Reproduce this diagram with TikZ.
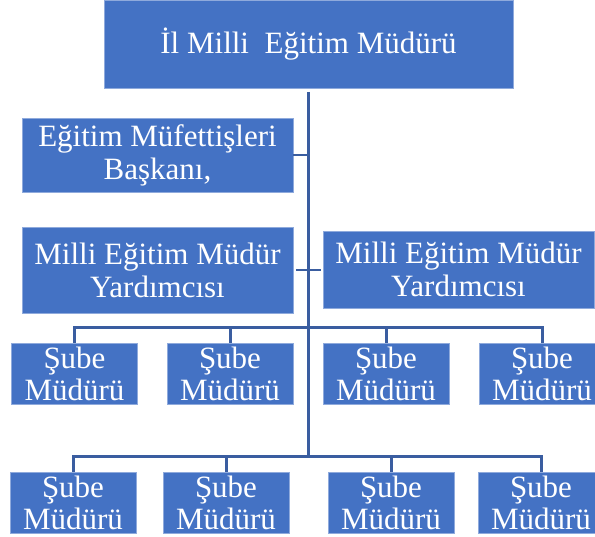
\documentclass[tikz,border=0pt]{standalone}
\usepackage{fontspec}
\setmainfont{Liberation Serif}
\definecolor{boxblue}{HTML}{4472C4}
\definecolor{edgeblue}{HTML}{8FAADC}
\definecolor{lineblue}{HTML}{3A5DA0}
\tikzset{
  orgbox/.style={rectangle, fill=boxblue, draw=edgeblue, line width=0.8pt, text=white,
    align=center, inner sep=0pt, font=\fontsize{31}{33}\selectfont},
  subebox/.style={orgbox, minimum width=126pt, minimum height=61pt, font=\fontsize{31}{32}\selectfont},
  conn/.style={draw=lineblue, line width=3pt},
  thinconn/.style={draw=lineblue, line width=2.5pt}
}
\begin{document}
\begin{tikzpicture}[x=1pt,y=-1pt]
\useasboundingbox (0,0) rectangle (595,537);
\clip (0,0) rectangle (595,537);
% nodes
\node[orgbox, minimum width=409pt, minimum height=88pt] (top) at (308.5,44) {İl Milli\hspace{0.25em} Eğitim Müdürü};
\node[orgbox, minimum width=271pt, minimum height=74pt] (insp) at (157.5,155) {Eğitim Müfettişleri\\Başkanı,};
\node[orgbox, minimum width=271pt, minimum height=86pt] (yrd1) at (157.5,270) {Milli Eğitim Müdür\\Yardımcısı};
\node[orgbox, minimum width=271pt, minimum height=77pt] (yrd2) at (458.5,269.5) {Milli Eğitim Müdür\\Yardımcısı};
\node[subebox] (s11) at (74.5,373.5) {Şube\\Müdürü};
\node[subebox] (s12) at (230,373.5) {Şube\\Müdürü};
\node[subebox] (s13) at (386,373.5) {Şube\\Müdürü};
\node[subebox] (s14) at (542,373.5) {Şube\\Müdürü};
\node[subebox] (s21) at (73,502.5) {Şube\\Müdürü};
\node[subebox] (s22) at (226,502.5) {Şube\\Müdürü};
\node[subebox] (s23) at (391,502.5) {Şube\\Müdürü};
\node[subebox] (s24) at (541,502.5) {Şube\\Müdürü};
% coordinates
\coordinate (trunktop) at (308,92);
\coordinate (bar1) at (308,327.5);
\coordinate (bar2) at (308,457);
% connectors
\draw[conn] (trunktop) -- (bar2);
\draw[thinconn] (insp.east) -- (insp.east -| bar1);
\draw[thinconn] ([xshift=3pt]yrd1.east) -- ([xshift=-2pt]yrd1.east -| yrd2.west);
\draw[conn] (s11.north) |- (bar1);
\draw[conn] (s12.north) |- (bar1);
\draw[conn] (s13.north) |- (bar1);
\draw[conn] (s14.north) |- (bar1);
\draw[conn] (s21.north) |- (bar2);
\draw[conn] (s22.north) |- (bar2);
\draw[conn] (s23.north) |- (bar2);
\draw[conn] (s24.north) |- (bar2);
\end{tikzpicture}
\end{document}
